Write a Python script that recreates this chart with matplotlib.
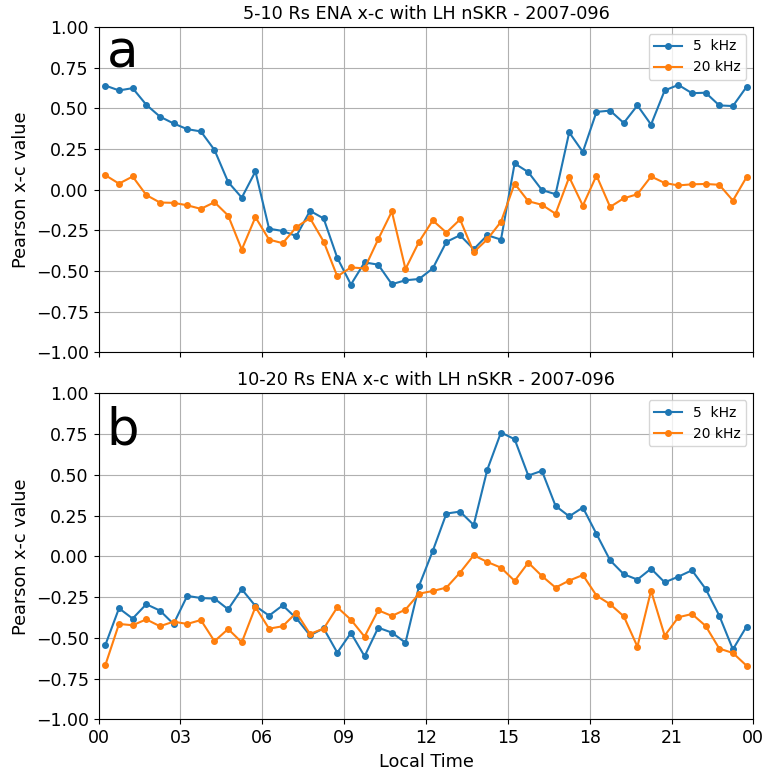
import matplotlib
matplotlib.use("Agg")
import matplotlib.pyplot as plt
import numpy as np

#----------------------------------data-------------------------------------------------------------
# local time of each x-c window (half-hour bins, centred)
lt = np.arange(48) * 0.5 + 0.25

# panel a: 5-10 Rs
a_5khz = [0.64, 0.61, 0.624, 0.522, 0.449, 0.407, 0.372, 0.358, 0.244, 0.047, -0.049, 0.112,
          -0.24, -0.254, -0.285, -0.13, -0.177, -0.419, -0.583, -0.447, -0.461, -0.581, -0.557, -0.549,
          -0.484, -0.321, -0.28, -0.366, -0.28, -0.307, 0.161, 0.108, -0.002, -0.028, 0.352, 0.232,
          0.478, 0.486, 0.41, 0.518, 0.4, 0.61, 0.644, 0.593, 0.596, 0.518, 0.514, 0.632]
a_20khz = [0.089, 0.037, 0.081, -0.033, -0.079, -0.081, -0.096, -0.118, -0.077, -0.159, -0.368, -0.169,
           -0.307, -0.329, -0.23, -0.175, -0.319, -0.533, -0.478, -0.484, -0.305, -0.134, -0.488, -0.319,
           -0.189, -0.264, -0.183, -0.384, -0.305, -0.197, 0.037, -0.071, -0.093, -0.148, 0.077, -0.098,
           0.087, -0.106, -0.053, -0.028, 0.081, 0.041, 0.026, 0.033, 0.035, 0.03, -0.067, 0.077]

# panel b: 10-20 Rs
b_5khz = [-0.544, -0.319, -0.382, -0.294, -0.333, -0.415, -0.243, -0.256, -0.26, -0.325, -0.202, -0.305,
          -0.364, -0.301, -0.38, -0.485, -0.442, -0.591, -0.47, -0.613, -0.438, -0.468, -0.53, -0.18,
          0.033, 0.262, 0.274, 0.192, 0.532, 0.759, 0.718, 0.495, 0.524, 0.309, 0.245, 0.299,
          0.137, -0.025, -0.11, -0.143, -0.076, -0.16, -0.125, -0.086, -0.2, -0.364, -0.571, -0.431]
b_20khz = [-0.667, -0.415, -0.423, -0.387, -0.429, -0.401, -0.415, -0.391, -0.521, -0.446, -0.528, -0.311,
           -0.444, -0.429, -0.346, -0.476, -0.444, -0.313, -0.389, -0.493, -0.331, -0.366, -0.327, -0.229,
           -0.213, -0.192, -0.1, 0.006, -0.035, -0.07, -0.151, -0.039, -0.121, -0.192, -0.149, -0.115,
           -0.241, -0.294, -0.368, -0.554, -0.211, -0.487, -0.374, -0.354, -0.427, -0.566, -0.593, -0.671]

xticks = np.arange(0, 25, 3)
xticklabels = ['00', '03', '06', '09', '12', '15', '18', '21', '00']

titles = ['5-10 Rs ENA x-c with LH nSKR - 2007-096',
          '10-20 Rs ENA x-c with LH nSKR - 2007-096']
panel_labels = ['a', 'b']

#----------------------------------plot-----------------------------------------
fig = plt.figure(figsize=(7.65, 7.71), dpi=100)
ax1 = fig.add_axes([0.1288, 0.543, 0.856, 0.422])
ax2 = fig.add_axes([0.1288, 0.067, 0.856, 0.423])

panels = [(ax1, a_5khz, a_20khz), (ax2, b_5khz, b_20khz)]
label_y = [0.877, 0.844]

for i, (ax, s5, s20) in enumerate(panels):
    ax.plot(lt, s5, '.-', ms=8, label='5  kHz')
    ax.plot(lt, s20, '.-', ms=8, label='20 kHz')
    ax.set_xlim(0, 24)
    ax.set_ylim(-1, 1)
    ax.set_yticks(np.arange(-1, 1.01, 0.25))
    ax.set_xticks(xticks)
    ax.set_xticklabels(xticklabels)
    ax.tick_params(labelsize=12.5)
    ax.grid(True)
    ax.set_ylabel('Pearson x-c value', fontsize=12.7)
    ax.set_title(titles[i], fontsize=12.7)
    ax.legend(loc='upper right', fontsize=10)
    ax.text(0.012, label_y[i], panel_labels[i], transform=ax.transAxes,
            fontsize=37, va='baseline', ha='left')

# top panel keeps its tick marks but no labels
ax1.tick_params(labelbottom=False)
ax2.set_xlabel('Local Time', fontsize=12.7)

fig.savefig('out.png', dpi=100)
